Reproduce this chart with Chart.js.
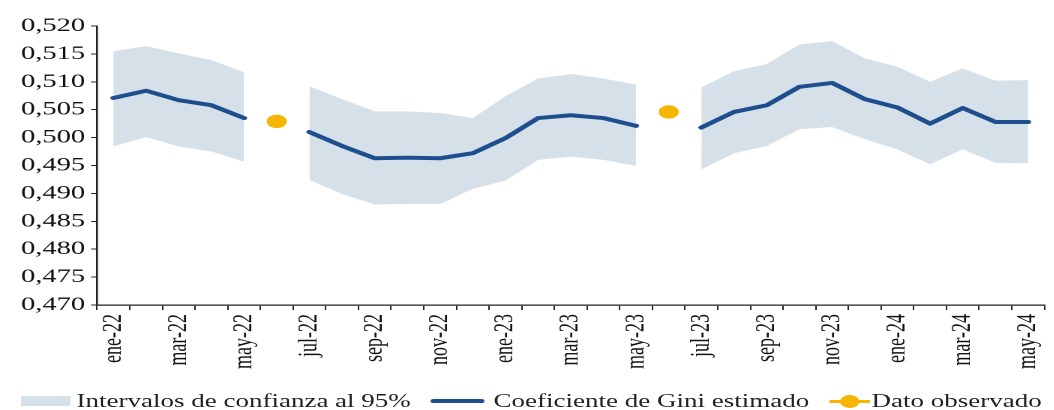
<!DOCTYPE html>
<html>
<head>
<meta charset="utf-8">
<script src="https://cdn.jsdelivr.net/npm/chart.js@4"></script>
<style>
  body { margin: 0; background: #fff; }
  #wrap { position: relative; width: 703px; height: 410px; transform: scaleX(1.5); transform-origin: 0 0; }
  #legend { position: absolute; top: 390px; left: 0; width: 703px; height: 20px; font-family: "Liberation Serif", "Times New Roman", serif; font-size: 18px; color: #222; }
  #legend span, #legend i { position: absolute; }
  #legend span { top: 0; line-height: 22px; white-space: nowrap; }
</style>
</head>
<body>
<div id="wrap">
  <canvas id="giniChart" width="703" height="375"></canvas>
  <div id="legend">
    <i style="left:14px;top:6px;width:33px;height:10px;background:#d6e0e9"></i>
    <span style="left:51px">Intervalos de confianza al 95%</span>
    <i style="left:287px;top:9px;width:36px;height:4px;background:#1f4e8f;border-radius:2px"></i>
    <span style="left:329px">Coeficiente de Gini estimado</span>
    <i style="left:553px;top:10px;width:27px;height:3px;background:#f7b500"></i>
    <i style="left:560px;top:5px;width:13px;height:13px;background:#f7b500;border-radius:50%"></i>
    <span style="left:581px">Dato observado</span>
  </div>
</div>
<script>
const months = ["ene-22","feb-22","mar-22","abr-22","may-22","jun-22","jul-22","ago-22","sep-22","oct-22","nov-22","dic-22",
  "ene-23","feb-23","mar-23","abr-23","may-23","jun-23","jul-23","ago-23","sep-23","oct-23","nov-23","dic-23",
  "ene-24","feb-24","mar-24","abr-24","may-24"];

const giniEstimado = [0.5071, 0.5084, 0.5067, 0.5058, 0.5035, null, 0.5010, 0.4985, 0.4963, 0.4964, 0.4963, 0.4972,
  0.4999, 0.5035, 0.5040, 0.5035, 0.5021, null, 0.5018, 0.5046, 0.5058, 0.5091, 0.5098, 0.5069,
  0.5054, 0.5025, 0.5053, 0.5028, 0.5028];

const icSuperior = [0.5155, 0.5164, 0.5151, 0.5139, 0.5117, null, 0.5092, 0.5069, 0.5047, 0.5047, 0.5044, 0.5035,
  0.5074, 0.5106, 0.5114, 0.5106, 0.5095, null, 0.5090, 0.5119, 0.5132, 0.5167, 0.5173, 0.5142,
  0.5127, 0.5100, 0.5124, 0.5102, 0.5103];

const icInferior = [0.4984, 0.5001, 0.4984, 0.4975, 0.4957, null, 0.4924, 0.4899, 0.4880, 0.4881, 0.4881, 0.4908,
  0.4923, 0.4960, 0.4966, 0.4960, 0.4949, null, 0.4943, 0.4972, 0.4985, 0.5015, 0.5019, 0.4997,
  0.4979, 0.4952, 0.4979, 0.4955, 0.4954];

const datoObservado = [null, null, null, null, null, 0.5029, null, null, null, null, null, null,
  null, null, null, null, null, 0.5046, null, null, null, null, null, null,
  null, null, null, null, null];

const yTicks = [0.470, 0.475, 0.480, 0.485, 0.490, 0.495, 0.500, 0.505, 0.510, 0.515, 0.520];

const serif = "'Liberation Serif', 'Times New Roman', serif";

new Chart(document.getElementById("giniChart"), {
  type: "line",
  data: {
    labels: months,
    datasets: [
      { label: "Coeficiente de Gini estimado", data: giniEstimado, borderColor: "#1f4e8f", borderWidth: 4,
        pointRadius: 0, borderCapStyle: "round", borderJoinStyle: "round", fill: false, order: 0 },
      { label: "Dato observado", data: datoObservado, showLine: false, pointRadius: 6.7,
        backgroundColor: "#f7b500", borderWidth: 0, order: 1 },
      { label: "IC superior", data: icSuperior, borderWidth: 0, pointRadius: 0,
        fill: "+1", backgroundColor: "#d6e0e9", order: 5 },
      { label: "IC inferior", data: icInferior, borderWidth: 0, pointRadius: 0, fill: false, order: 6 }
    ]
  },
  options: {
    responsive: false,
    animation: false,
    devicePixelRatio: 2,
    spanGaps: false,
    layout: { padding: { top: 26, right: 0, left: 0, bottom: 0 } },
    plugins: { legend: { display: false }, tooltip: { enabled: false } },
    scales: {
      x: {
        offset: true,
        afterFit: s => { s.height = 70; s.paddingRight = 0; s.paddingLeft = 0; },
        border: { color: "#222", width: 1.3 },
        grid: { offset: true, drawOnChartArea: false, drawTicks: true, tickLength: 5, color: "#222" },
        ticks: {
          autoSkip: false, maxRotation: 90, minRotation: 90, padding: 4,
          color: "#111", font: { family: serif, size: 18 },
          callback: (v, i) => i % 2 === 0 ? months[i] : ""
        }
      },
      y: {
        min: 0.47, max: 0.52,
        afterBuildTicks: axis => { axis.ticks = yTicks.map(v => ({ value: v })); },
        afterFit: s => { s.width = 64.7; },
        border: { color: "#222", width: 1.3 },
        grid: { drawOnChartArea: false, drawTicks: true, tickLength: 4, color: "#222" },
        ticks: {
          padding: 4, color: "#111", font: { family: serif, size: 19 },
          callback: v => v.toFixed(3).replace(".", ",")
        }
      }
    }
  }
});
</script>
</body>
</html>
